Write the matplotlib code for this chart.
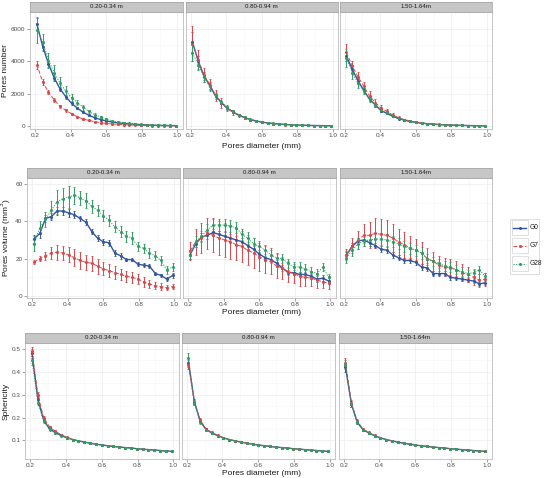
import matplotlib
matplotlib.use("Agg")
import matplotlib.pyplot as plt
from matplotlib.patches import Rectangle
from matplotlib.ticker import MultipleLocator

plt.rcParams['font.family'] = ['Liberation Sans', 'DejaVu Sans']

# ---- data -------------------------------------------------------------
diameter = [0.210, 0.243, 0.275, 0.308, 0.340, 0.373, 0.405, 0.438, 0.470, 0.503,
            0.535, 0.568, 0.600, 0.633, 0.665, 0.698, 0.730, 0.763, 0.795, 0.828,
            0.860, 0.893, 0.925, 0.958, 0.990]
groups = ["G0", "G7", "G28"]
depths = ["0.20-0.34 m", "0.80-0.94 m", "1.50-1.64m"]

# pores number
num_d1_g0 = [6300, 4900, 3850, 2950, 2300, 1800, 1400, 1100, 850, 660, 510, 400, 310, 250, 200, 160, 130, 100, 80, 65, 50, 40, 32, 26, 20]
num_d1_g0_err = [350, 250, 200, 150, 120, 100, 80, 60, 50, 40, 30, 25, 20, 15, 12, 10, 8, 6, 5, 4, 3, 3, 2, 2, 2]
num_d1_g7 = [3800, 2700, 2100, 1600, 1220, 960, 760, 560, 430, 340, 270, 210, 160, 125, 100, 80, 65, 50, 40, 32, 25, 20, 16, 12, 10]
num_d1_g7_err = [250, 180, 150, 120, 100, 80, 70, 55, 45, 35, 28, 22, 18, 14, 11, 9, 7, 6, 5, 4, 3, 3, 2, 2, 2]
num_d1_g28 = [5930, 5200, 4050, 3300, 2650, 2150, 1750, 1450, 1150, 900, 700, 550, 420, 330, 260, 200, 160, 125, 100, 80, 62, 50, 40, 32, 25]
num_d1_g28_err = [800, 480, 470, 450, 400, 300, 220, 180, 150, 120, 100, 80, 60, 50, 40, 30, 25, 20, 15, 12, 10, 8, 6, 5, 4]

num_d2_g0 = [5200, 4000, 3100, 2500, 1850, 1450, 1100, 870, 670, 520, 400, 310, 240, 190, 150, 120, 95, 75, 60, 48, 38, 30, 24, 19, 15]
num_d2_g0_err = [600, 300, 250, 200, 150, 120, 90, 70, 55, 45, 35, 28, 22, 18, 14, 11, 9, 7, 6, 5, 4, 3, 3, 2, 2]
num_d2_g7 = [5100, 4100, 3150, 2550, 1900, 1420, 1100, 860, 650, 510, 390, 300, 235, 185, 145, 115, 90, 72, 58, 46, 36, 29, 23, 18, 14]
num_d2_g7_err = [1100, 600, 450, 380, 350, 300, 200, 150, 110, 80, 60, 45, 35, 28, 22, 17, 13, 10, 8, 6, 5, 4, 3, 3, 2]
num_d2_g28 = [4500, 3800, 3000, 2450, 1900, 1500, 1150, 900, 700, 540, 420, 320, 250, 195, 155, 122, 96, 76, 60, 48, 38, 30, 24, 19, 15]
num_d2_g28_err = [500, 350, 250, 200, 160, 130, 100, 80, 60, 48, 38, 30, 24, 19, 15, 12, 10, 8, 6, 5, 4, 3, 3, 2, 2]

num_d3_g0 = [4300, 3500, 2800, 2200, 1650, 1300, 950, 780, 600, 460, 360, 280, 220, 175, 140, 110, 88, 70, 56, 45, 36, 29, 23, 18, 14]
num_d3_g0_err = [300, 250, 200, 150, 120, 100, 80, 60, 50, 40, 30, 25, 20, 15, 12, 10, 8, 6, 5, 4, 3, 3, 2, 2, 2]
num_d3_g7 = [4550, 3700, 3050, 2450, 1850, 1450, 1100, 900, 680, 520, 400, 310, 240, 190, 150, 118, 93, 74, 59, 47, 37, 30, 24, 19, 15]
num_d3_g7_err = [500, 300, 300, 300, 300, 250, 180, 140, 100, 80, 60, 45, 35, 28, 22, 17, 13, 10, 8, 6, 5, 4, 3, 3, 2]
num_d3_g28 = [4200, 3300, 2650, 2150, 1650, 1300, 980, 800, 620, 480, 370, 290, 225, 178, 142, 112, 90, 71, 57, 46, 37, 29, 23, 18, 14]
num_d3_g28_err = [550, 400, 300, 200, 150, 120, 90, 70, 55, 45, 35, 28, 22, 18, 14, 11, 9, 7, 6, 5, 4, 3, 3, 2, 2]

# pores volume
vol_d1_g0 = [30.5, 33.5, 41.5, 42.5, 45.5, 45.5, 44.5, 43.5, 41.5, 39.5, 34.5, 31.0, 29.0, 28.5, 23.0, 21.5, 19.5, 19.5, 17.0, 16.5, 16.0, 12.0, 11.0, 9.0, 11.0]
vol_d1_g0_err = [2, 2.5, 2, 2, 2, 2, 2, 2, 1.5, 1.5, 1.5, 1.5, 1.5, 1.5, 1.5, 1.5, 1, 1, 1, 1, 1, 1, 1, 1, 1.2]
vol_d1_g7 = [18.0, 20.0, 21.5, 23.0, 23.5, 23.0, 22.0, 20.5, 19.0, 18.0, 17.5, 16.0, 14.5, 13.5, 12.5, 11.5, 10.5, 10.0, 9.0, 7.5, 6.5, 5.5, 5.0, 4.5, 5.0]
vol_d1_g7_err = [1, 1.5, 2, 3, 4, 4, 4, 4.5, 4.5, 4, 4, 4, 3.5, 3.5, 3.5, 3, 3, 3, 2.5, 2.5, 2, 2, 2, 1.5, 1.5]
vol_d1_g28 = [28.0, 36.5, 41.0, 46.0, 50.5, 52.0, 53.0, 54.0, 52.5, 51.0, 48.0, 46.0, 43.0, 40.5, 37.0, 34.5, 32.0, 31.0, 26.5, 25.5, 23.0, 21.5, 19.0, 14.0, 15.5]
vol_d1_g28_err = [4, 3.5, 4, 5, 6.5, 6, 6, 4.5, 4, 4, 3.5, 3, 3, 3, 3, 3, 3, 3, 2.5, 2.5, 2.5, 2.5, 2.5, 2, 2]

vol_d2_g0 = [22.0, 28.0, 31.5, 32.5, 34.0, 33.0, 32.0, 31.0, 30.0, 29.0, 27.0, 25.0, 22.5, 20.5, 19.5, 17.5, 15.0, 12.5, 12.5, 11.5, 11.5, 10.5, 9.0, 9.5, 8.0]
vol_d2_g0_err = [2, 2, 2, 2, 2, 2, 2, 2, 2, 2, 2, 2, 2, 2, 2, 2, 1.5, 1.5, 1.5, 1.5, 1.5, 1.5, 1.5, 1.5, 1.5]
vol_d2_g7 = [24.0, 29.0, 31.0, 33.5, 32.5, 31.0, 30.0, 29.0, 27.5, 26.5, 24.5, 23.0, 21.0, 19.5, 18.5, 16.0, 15.0, 13.0, 12.0, 10.5, 10.0, 9.5, 8.5, 7.5, 7.0]
vol_d2_g7_err = [5, 7, 8, 8.5, 9, 9, 9, 9, 8.5, 8.5, 8, 8, 7.5, 7, 7, 6.5, 6, 5.5, 5, 5, 4.5, 4, 4, 3.5, 3.5]
vol_d2_g28 = [22.0, 29.0, 32.0, 35.5, 38.0, 38.0, 38.0, 37.5, 36.5, 33.0, 31.0, 28.0, 26.5, 24.5, 22.0, 20.5, 20.0, 17.5, 15.5, 15.5, 14.5, 13.0, 12.0, 15.5, 10.0]
vol_d2_g28_err = [2, 3, 3, 3, 3, 3, 3, 3, 3, 3, 3, 3, 3, 3, 2.5, 2.5, 2.5, 2.5, 2.5, 2.5, 2.5, 2.5, 2.5, 2, 2]

vol_d3_g0 = [22.0, 26.5, 29.5, 30.0, 28.5, 27.0, 25.0, 24.5, 22.0, 20.5, 19.0, 19.0, 18.0, 15.5, 15.0, 12.0, 12.0, 12.0, 10.0, 9.5, 9.0, 8.5, 8.0, 6.5, 7.0]
vol_d3_g0_err = [2, 2, 1.5, 1.5, 1.5, 1.5, 1.5, 1.5, 1.5, 1.5, 1.5, 1.5, 1.5, 1.5, 1.5, 1.5, 1.2, 1.2, 1.2, 1.2, 1.2, 1.2, 1.2, 1.2, 1.2]
vol_d3_g7 = [22.0, 27.0, 30.0, 32.5, 32.5, 33.5, 33.0, 32.5, 31.0, 29.0, 27.5, 25.5, 24.5, 23.0, 20.0, 18.5, 16.5, 15.5, 15.0, 14.0, 12.5, 11.5, 10.0, 8.5, 9.0]
vol_d3_g7_err = [3, 4, 5, 6, 7, 8, 8, 8, 7.5, 7, 7, 6.5, 6, 6, 5.5, 5, 5, 5, 5, 4.5, 4.5, 4, 4, 3.5, 3.5]
vol_d3_g28 = [20.5, 24.5, 28.0, 29.5, 30.0, 30.5, 30.5, 30.0, 29.0, 28.0, 26.5, 25.5, 24.5, 23.0, 20.0, 18.5, 17.5, 16.0, 15.5, 14.0, 13.0, 12.0, 12.5, 14.0, 10.5]
vol_d3_g28_err = [3, 3, 3, 3, 3, 3, 3, 3, 3, 3, 3, 3, 3, 3, 2.5, 2.5, 2.5, 2.5, 2.5, 2.5, 2.5, 2, 2, 2, 2]

# sphericity
sph_tail = [0.104, 0.098, 0.093, 0.088, 0.084, 0.080, 0.077, 0.074, 0.071, 0.069, 0.067, 0.064, 0.062, 0.060, 0.058, 0.056, 0.054, 0.052]
sph_d1_g0 = [0.48, 0.28, 0.19, 0.150, 0.135, 0.122, 0.112] + sph_tail
sph_d1_g7 = [0.49, 0.30, 0.20, 0.160, 0.140, 0.125, 0.114] + sph_tail
sph_d1_g28 = [0.45, 0.265, 0.185, 0.148, 0.133, 0.121, 0.111] + sph_tail
sph_d2_g0 = [0.44, 0.27, 0.185, 0.148, 0.133, 0.121, 0.111] + sph_tail
sph_d2_g7 = [0.43, 0.265, 0.19, 0.150, 0.135, 0.122, 0.112] + sph_tail
sph_d2_g28 = [0.46, 0.265, 0.18, 0.147, 0.133, 0.121, 0.111] + sph_tail
sph_d3_g0 = [0.42, 0.26, 0.18, 0.147, 0.133, 0.121, 0.111] + sph_tail
sph_d3_g7 = [0.44, 0.265, 0.185, 0.150, 0.135, 0.122, 0.112] + sph_tail
sph_d3_g28 = [0.43, 0.26, 0.18, 0.147, 0.133, 0.121, 0.111] + sph_tail
sph_err = [0.02, 0.012, 0.008, 0.005, 0.004, 0.003, 0.003, 0.002, 0.002, 0.002, 0.002, 0.002, 0.001,
           0.001, 0.001, 0.001, 0.001, 0.001, 0.001, 0.001, 0.001, 0.001, 0.001, 0.001, 0.001]

# ---- styling --------------------------------------------------------------
colors = {"G0": "#34569E", "G7": "#D9474A", "G28": "#2E9E62"}
styles = {"G0": "-", "G7": (0, (4, 2)), "G28": (0, (1.2, 1.4))}
widths = {"G0": 1.0, "G7": 0.7, "G28": 0.7}

W, H = 545, 478
fig = plt.figure(figsize=(W / 100, H / 100), dpi=100)


def box(l, t, w, h):
    return [l / W, 1 - (t + h) / H, w / W, h / H]


def draw_row(top, height, lefts, width, series, ylim, yticks, ylabel, ylabel_x, xlabel_y):
    for i, (left, data) in enumerate(zip(lefts, series)):
        ax = fig.add_axes(box(left, top, width, height))
        for g in groups:
            y, err = data[g]
            ax.errorbar(diameter, y, yerr=err, color=colors[g], ls=styles[g], lw=widths[g],
                        elinewidth=0.7, capsize=1.0, capthick=0.6, marker='o', ms=1.2,
                        zorder=3)
        ax.set_xlim(0.171, 1.029)
        ax.set_ylim(*ylim)
        ax.xaxis.set_major_locator(MultipleLocator(0.2))
        ax.xaxis.set_minor_locator(MultipleLocator(0.1))
        ax.set_yticks(yticks)
        ax.set_yticks([(a + b) / 2 for a, b in zip(yticks[:-1], yticks[1:])], minor=True)
        ax.grid(which='major', color='#EBEBEB', lw=0.5)
        ax.grid(which='minor', color='#F6F6F6', lw=0.4)
        ax.set_axisbelow(True)
        for s in ax.spines.values():
            s.set_color('#BDBDBD')
            s.set_linewidth(0.6)
        ax.tick_params(which='major', length=2, width=0.5, color='#7F7F7F',
                       labelsize=4.6, labelcolor='#4D4D4D', pad=1.2)
        ax.tick_params(which='minor', length=0)
        if i > 0:
            ax.tick_params(axis='y', which='major', length=0, labelleft=False)
        # strip on top of each panel
        sax = fig.add_axes(box(left, top - 10.5, width, 10.5))
        sax.set_xticks([])
        sax.set_yticks([])
        sax.set_facecolor('#C6C6C6')
        for s in sax.spines.values():
            s.set_color('#A9A9A9')
            s.set_linewidth(0.6)
        sax.text(0.5, 0.5, depths[i], ha='center', va='center', fontsize=4.4, color='#1A1A1A',
                 transform=sax.transAxes)
    fig.text(ylabel_x / W, 1 - (top + height / 2) / H, ylabel, rotation=90, ha='center',
             va='center', fontsize=6.0, color='#1A1A1A')
    fig.text(261 / W, 1 - xlabel_y / H, "Pores diameter (mm)", ha='center', va='center',
             fontsize=6.0, color='#1A1A1A')


num_series = [
    {"G0": (num_d1_g0, num_d1_g0_err), "G7": (num_d1_g7, num_d1_g7_err), "G28": (num_d1_g28, num_d1_g28_err)},
    {"G0": (num_d2_g0, num_d2_g0_err), "G7": (num_d2_g7, num_d2_g7_err), "G28": (num_d2_g28, num_d2_g28_err)},
    {"G0": (num_d3_g0, num_d3_g0_err), "G7": (num_d3_g7, num_d3_g7_err), "G28": (num_d3_g28, num_d3_g28_err)},
]
vol_series = [
    {"G0": (vol_d1_g0, vol_d1_g0_err), "G7": (vol_d1_g7, vol_d1_g7_err), "G28": (vol_d1_g28, vol_d1_g28_err)},
    {"G0": (vol_d2_g0, vol_d2_g0_err), "G7": (vol_d2_g7, vol_d2_g7_err), "G28": (vol_d2_g28, vol_d2_g28_err)},
    {"G0": (vol_d3_g0, vol_d3_g0_err), "G7": (vol_d3_g7, vol_d3_g7_err), "G28": (vol_d3_g28, vol_d3_g28_err)},
]
sph_series = [
    {"G0": (sph_d1_g0, sph_err), "G7": (sph_d1_g7, sph_err), "G28": (sph_d1_g28, sph_err)},
    {"G0": (sph_d2_g0, sph_err), "G7": (sph_d2_g7, sph_err), "G28": (sph_d2_g28, sph_err)},
    {"G0": (sph_d3_g0, sph_err), "G7": (sph_d3_g7, sph_err), "G28": (sph_d3_g28, sph_err)},
]

draw_row(12, 116.5, [30, 185.5, 339.5], 152.5, num_series, (-155, 7050),
         [0, 2000, 4000, 6000], "Pores number", 6, 146)
draw_row(178, 120, [27, 183, 339.5], 152.5, vol_series, (-1.1, 63.2),
         [0, 20, 40, 60], "Pores volume (mm$^3$)", 6, 313)
draw_row(343, 116, [25, 181.5, 338.5], 153.5, sph_series, (0.019, 0.5255),
         [0.1, 0.2, 0.3, 0.4, 0.5], "Sphericity", 6, 473.5)

# legend
lax = fig.add_axes(box(505, 212, 40, 66))
lax.set_xlim(505, 545)
lax.set_ylim(278, 212)
lax.axis('off')
lax.add_patch(Rectangle((510, 219), 28.5, 54.5, fill=False, ec='#D9D9D9', lw=0.6))
for k, g in enumerate(groups):
    cy = 227.5 + 18 * k
    lax.add_patch(Rectangle((511.5, cy - 7.5), 16, 15, facecolor='white', ec='#D3D3D3', lw=0.5))
    lax.plot([513, 526], [cy, cy], color=colors[g], ls=styles[g], lw=widths[g])
    lax.plot([519.5], [cy], 'o', color=colors[g], ms=1.2)
    lax.text(530, cy, g, fontsize=4.8, va='center', ha='left', color='#1A1A1A')

fig.savefig("out.png", dpi=100)
